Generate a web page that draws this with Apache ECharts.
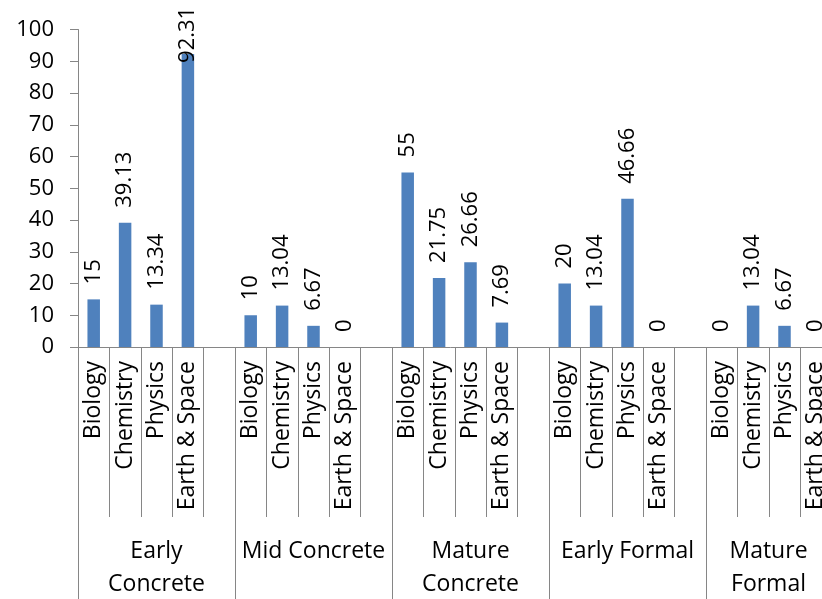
<!DOCTYPE html>
<html>
<head>
<meta charset="utf-8">
<script src="https://cdn.jsdelivr.net/npm/echarts@6/dist/echarts.min.js"></script>
<style>
  html, body { margin: 0; padding: 0; background: #fff; }
  #chart { width: 822px; height: 599px; }
</style>
</head>
<body>
<div id="chart"></div>
<script>
// Stages of reasoning (outer axis level) and science subjects (inner level)
const stages = ['Early\nConcrete', 'Mid Concrete', 'Mature\nConcrete', 'Early Formal', 'Mature\nFormal'];
const subjects = ['Biology', 'Chemistry', 'Physics', 'Earth & Space'];

// Percent of students per subject, one array per stage
const earlyConcrete  = [15, 39.13, 13.34, 92.31];
const midConcrete    = [10, 13.04, 6.67, 0];
const matureConcrete = [55, 21.75, 26.66, 7.69];
const earlyFormal    = [20, 13.04, 46.66, 0];
const matureFormal   = [0, 13.04, 6.67, 0];

const yTicks = { min: 0, max: 100, interval: 10 };

const stageValues = [earlyConcrete, midConcrete, matureConcrete, earlyFormal, matureFormal];

// Each stage takes four subject slots plus one empty spacer slot
const slotNames = [];
const slotValues = [];
stageValues.forEach(vals => {
  subjects.forEach((s, i) => { slotNames.push(s); slotValues.push(vals[i]); });
  slotNames.push('');
  slotValues.push('-');
});

const FONT = '"Open Sans", sans-serif';
const AXIS_GREY = '#868686';
const BAR_BLUE = '#4F81BD';

// Tall values keep their label inside the chart, tucked over the bar top
const barData = slotValues.map(v => {
  if (v !== '-' && v > 80) {
    return { value: v, label: { position: ['50%', 9] } };
  }
  return v;
});

// The last stage runs past the right edge; centre its name in the visible part
const stageAxisData = stages.map((s, i) =>
  i === stages.length - 1 ? { value: s, textStyle: { padding: [0, 32, 0, 0] } } : s
);

const chart = echarts.init(document.getElementById('chart'), null, { renderer: 'canvas' });

chart.setOption({
  animation: false,
  backgroundColor: '#ffffff',
  grid: { left: 78, top: 29.5, width: 785, bottom: 252, containLabel: false,
          outerBoundsMode: 'none' },
  xAxis: [
    {
      type: 'category',
      data: slotNames,
      boundaryGap: true,
      axisLine: { show: true, lineStyle: { color: AXIS_GREY, width: 1 } },
      axisTick: { show: true, length: 170, alignWithLabel: false, interval: 0,
                  lineStyle: { color: AXIS_GREY, width: 1 } },
      axisLabel: { interval: 0, rotate: 90, margin: 14, color: '#000',
                   fontFamily: FONT, fontSize: 23, hideOverlap: false }
    },
    {
      type: 'category',
      data: stageAxisData,
      position: 'bottom',
      boundaryGap: true,
      axisLine: { show: false },
      axisTick: { show: true, length: 252, interval: 0,
                  lineStyle: { color: AXIS_GREY, width: 1 } },
      axisLabel: { interval: 0, margin: 188, color: '#000', fontFamily: FONT,
                   fontSize: 23, lineHeight: 33, verticalAlign: 'top', align: 'center' }
    }
  ],
  yAxis: {
    type: 'value',
    min: yTicks.min,
    max: yTicks.max,
    interval: yTicks.interval,
    splitLine: { show: false },
    axisLine: { show: true, lineStyle: { color: AXIS_GREY, width: 1 } },
    axisTick: { show: true, length: 8, lineStyle: { color: AXIS_GREY, width: 1 } },
    axisLabel: { margin: 24, color: '#000', fontFamily: FONT, fontSize: 22 }
  },
  series: [
    {
      type: 'bar',
      xAxisIndex: 0,
      yAxisIndex: 0,
      data: barData,
      barWidth: 12.5,
      itemStyle: { color: BAR_BLUE },
      label: {
        show: true,
        position: 'top',
        distance: 15,
        rotate: 90,
        align: 'left',
        verticalAlign: 'middle',
        color: '#000',
        fontFamily: FONT,
        fontSize: 22,
        formatter: p => String(p.value)
      }
    }
  ]
});
</script>
</body>
</html>
